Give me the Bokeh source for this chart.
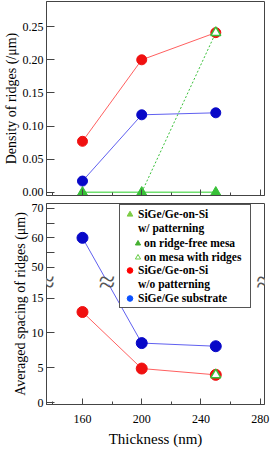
from bokeh.plotting import figure
from bokeh.layouts import column
from bokeh.models import (ColumnDataSource, Range1d, FixedTicker, Legend, LegendItem,
                          Label, CustomJSTransform, CustomJSTickFormatter, NumeralTickFormatter)
from bokeh.transform import transform
from bokeh.embed import file_html
from bokeh.resources import INLINE

# ---------------- data ----------------
thickness = [160, 200, 250]                 # nm
dens_wo_pattern = [0.077, 0.200, 0.241]     # SiGe/Ge-on-Si w/o patterning (/um)
dens_substrate = [0.017, 0.117, 0.120]      # SiGe/Ge substrate
dens_ridge_free = [0.0, 0.0, 0.0]           # w/ patterning, on ridge-free mesa
thick_mesa_ridges = [250]
dens_mesa_ridges = [0.241]                  # w/ patterning, on mesa with ridges
thick_pattern_link = [200, 250]
dens_pattern_link = [0.0, 0.241]

spc_wo_pattern = [13.0, 4.9, 4.0]           # averaged spacing (um)
spc_substrate = [60.0, 8.55, 8.1]
spc_mesa_ridges = [4.0]

x_ticks = [160, 200, 240, 280]
x_minor = [140, 180, 220, 260]
dens_ticks = [0.0, 0.05, 0.10, 0.15, 0.20, 0.25]
spc_tick_vals = [0, 5, 10, 15, 50, 55, 60, 65, 70]
spc_tick_labels = ["0", "5", "10", "15", "50", "", "60", "", "70"]

# ---------------- broken-axis scale ----------------
LOW_MAX = 16.7
UP_MIN = 46.75
D50 = 19.41
K = 0.422
D_UP = D50 + (UP_MIN - 50) * K

def brk_py(v):
    if v <= LOW_MAX:
        return v
    if v >= UP_MIN:
        return D50 + (v - 50) * K
    return LOW_MAX + (v - LOW_MAX) * (D_UP - LOW_MAX) / (UP_MIN - LOW_MAX)

brk = CustomJSTransform(args=dict(lo=LOW_MAX, up=UP_MIN, dup=D_UP, d50=D50, k=K), func="""
  if (x <= lo) return x;
  if (x >= up) return d50 + (x - 50) * k;
  return lo + (x - lo) * (dup - lo) / (up - lo);
""", v_func="""
  const out = new Array(xs.length);
  for (let i = 0; i < xs.length; i++) {
    const x = xs[i];
    out[i] = x <= lo ? x : (x >= up ? d50 + (x - 50) * k : lo + (x - lo) * (dup - lo) / (up - lo));
  }
  return out;
""")

FONT = "Liberation Serif"
AX = "#444444"
RED, RED_L = "#f01010", "#ff6060"
BLUE, BLUE_L = "#0808c8", "#6060f0"
GREEN, GREEN_L = "#38c038", "#70e070"

x_range = Range1d(135.7, 282.9)
W = 272


def style(p):
    p.outline_line_color = AX
    p.grid.visible = False
    p.background_fill_color = "white"
    p.border_fill_color = "white"
    for ax in p.axis:
        ax.axis_line_color = AX
        ax.major_tick_line_color = AX
        ax.minor_tick_line_color = AX
        ax.major_label_text_font = FONT
        ax.major_label_text_font_size = "12px"
        ax.major_label_text_color = "black"
        ax.axis_label_text_font = FONT
        ax.axis_label_text_font_style = "normal"
        ax.axis_label_text_color = "black"
    p.xaxis.ticker = FixedTicker(ticks=x_ticks, minor_ticks=x_minor)
    p.xaxis.major_tick_in = 6
    p.xaxis.major_tick_out = 0
    p.xaxis.minor_tick_in = 3
    p.xaxis.minor_tick_out = 0
    p.yaxis.major_tick_in = 8
    p.yaxis.major_tick_out = 0
    p.yaxis.minor_tick_line_color = None
    p.yaxis.major_label_standoff = 3
    p.yaxis.axis_label_standoff = 1
    p.yaxis.axis_label_text_font_size = "14px"


# ---------------- top panel ----------------
p1 = figure(width=W, height=199, output_backend="svg", toolbar_location=None,
            x_range=x_range, y_range=Range1d(-0.0048, 0.288),
            min_border_left=44, min_border_right=8, min_border_top=1, min_border_bottom=4)
style(p1)
p1.yaxis.ticker = FixedTicker(ticks=dens_ticks)
p1.yaxis.formatter = NumeralTickFormatter(format="0.00")
p1.yaxis.axis_label = "Density of ridges (/\u03bcm)"
p1.xaxis.formatter = CustomJSTickFormatter(code="return ''")
p1.xaxis.major_label_text_font_size = "1px"
p1.xaxis.major_label_standoff = 0

p1.line(thickness, dens_wo_pattern, line_color=RED_L, line_width=1)
p1.line(thickness, dens_substrate, line_color=BLUE_L, line_width=1)
p1.line(thickness, dens_ridge_free, line_color=GREEN_L, line_width=1.5)
p1.line(thick_pattern_link, dens_pattern_link, line_color=GREEN, line_width=1, line_dash="2 2")
p1.scatter(thickness, dens_wo_pattern, size=10, fill_color=RED, line_color=RED)
p1.scatter(thickness, dens_substrate, size=10, fill_color=BLUE, line_color=BLUE)
p1.scatter(thickness, dens_ridge_free, marker="triangle", size=10, fill_color=GREEN, line_color=GREEN)
p1.scatter(thick_mesa_ridges, dens_mesa_ridges, marker="triangle", size=10,
           fill_color="white", line_color=GREEN, line_width=1.5)

# ---------------- bottom panel ----------------
p2 = figure(width=W, height=252, output_backend="svg", toolbar_location=None,
            x_range=x_range, y_range=Range1d(-0.25, 28.55),
            min_border_left=44, min_border_right=8, min_border_top=4, min_border_bottom=47)
style(p2)
tick_pos = [round(brk_py(v), 6) for v in spc_tick_vals]
p2.yaxis.ticker = FixedTicker(ticks=tick_pos)
p2.yaxis.formatter = CustomJSTickFormatter(args=dict(pos=tick_pos, labs=spc_tick_labels), code="""
  let best = 0;
  for (let i = 0; i < pos.length; i++) {
    if (Math.abs(pos[i] - tick) < Math.abs(pos[best] - tick)) best = i;
  }
  return labs[best];
""")
p2.yaxis.axis_label = "Averaged spacing of ridges (\u03bcm)"
p2.xaxis.axis_label = "Thickness (nm)"
p2.xaxis.axis_label_text_font_size = "15px"
p2.xaxis.major_label_standoff = 10
p2.xaxis.axis_label_standoff = 5

s_wo = ColumnDataSource(dict(x=thickness, v=spc_wo_pattern))
s_sub = ColumnDataSource(dict(x=thickness, v=spc_substrate))
s_mesa = ColumnDataSource(dict(x=thick_mesa_ridges, v=spc_mesa_ridges))
yv = transform("v", brk)
p2.line("x", yv, source=s_wo, line_color=RED_L, line_width=1)
p2.line("x", yv, source=s_sub, line_color=BLUE_L, line_width=1)
p2.scatter("x", yv, source=s_wo, size=11, fill_color=RED, line_color=RED)
p2.scatter("x", yv, source=s_sub, size=11, fill_color=BLUE, line_color=BLUE)
p2.scatter("x", yv, source=s_mesa, marker="triangle", size=10,
           fill_color="white", line_color=GREEN, line_width=1.5)

# break marks
BRK_D = (LOW_MAX + D_UP) / 2
d0, d1 = brk_py(spc_substrate[0]), brk_py(spc_substrate[1])
x_cross = thickness[0] + (d0 - BRK_D) / (d0 - d1) * (thickness[1] - thickness[0])
for xb in [x_range.start, x_range.end, x_cross]:
    p2.add_layout(Label(x=xb, y=BRK_D, text="\u2003\u2003", text_font_size="6px",
                        text_align="center", text_baseline="middle",
                        background_fill_color="white", padding=0))
    p2.add_layout(Label(x=xb, y=BRK_D, text="\u2248", text_font=FONT, text_font_size="30px",
                        text_align="center", text_baseline="middle", text_color="#555555"))

# legend (renderers whose single point lies outside the visible range)
off = dict(x=[-1000], y=[-1000])
lg_tri = p2.scatter(**off, marker="triangle", fill_color="#7ccc44", line_color="#7ccc44")
lg_blank = p2.scatter(**off, fill_alpha=0, line_alpha=0)
lg_red = p2.scatter(**off, fill_color="#ff0000", line_color="#ff0000")
lg_blue = p2.scatter(**off, fill_color="#0a50ff", line_color="#0a50ff")
lg_tri2 = p2.scatter(**off, marker="triangle", fill_color="#44b030", line_color="#44b030")
lg_tri_open = p2.scatter(**off, marker="triangle", fill_color="white", line_color="#66cc44",
                         line_width=1)

H = 14
PAD = 2
XA, YA = 73, 96
common = dict(label_text_font=FONT, label_text_font_style="bold", label_text_font_size="11.5px",
              label_text_color="black", label_height=H, glyph_height=H, spacing=0, margin=0)
legA = Legend(items=[
    LegendItem(label="SiGe/Ge-on-Si", renderers=[lg_tri]),
    LegendItem(label="w/ patterning", renderers=[lg_blank]),
    LegendItem(label="\u00a0", renderers=[lg_blank]),
    LegendItem(label="\u00a0", renderers=[lg_blank]),
    LegendItem(label="SiGe/Ge-on-Si", renderers=[lg_red]),
    LegendItem(label="w/o patterning", renderers=[lg_blank]),
    LegendItem(label="SiGe/Ge substrate", renderers=[lg_blue]),
], location=(XA, YA), glyph_width=15, label_standoff=1, padding=PAD, label_width=110,
    border_line_color="#555555", border_line_alpha=1.0, border_line_width=1,
    background_fill_color="white", background_fill_alpha=1, **common)
legB = Legend(items=[
    LegendItem(label="on ridge-free mesa", renderers=[lg_tri2]),
    LegendItem(label="on mesa with ridges", renderers=[lg_tri_open]),
], location=(XA + 12, YA + PAD + 3 * H), glyph_width=13, label_standoff=0, padding=0,
    border_line_color=None, background_fill_alpha=0, **common)
p2.add_layout(legA)
p2.add_layout(legB)

layout = column(p1, p2)
open("out.html", "w").write(file_html(layout, INLINE))
